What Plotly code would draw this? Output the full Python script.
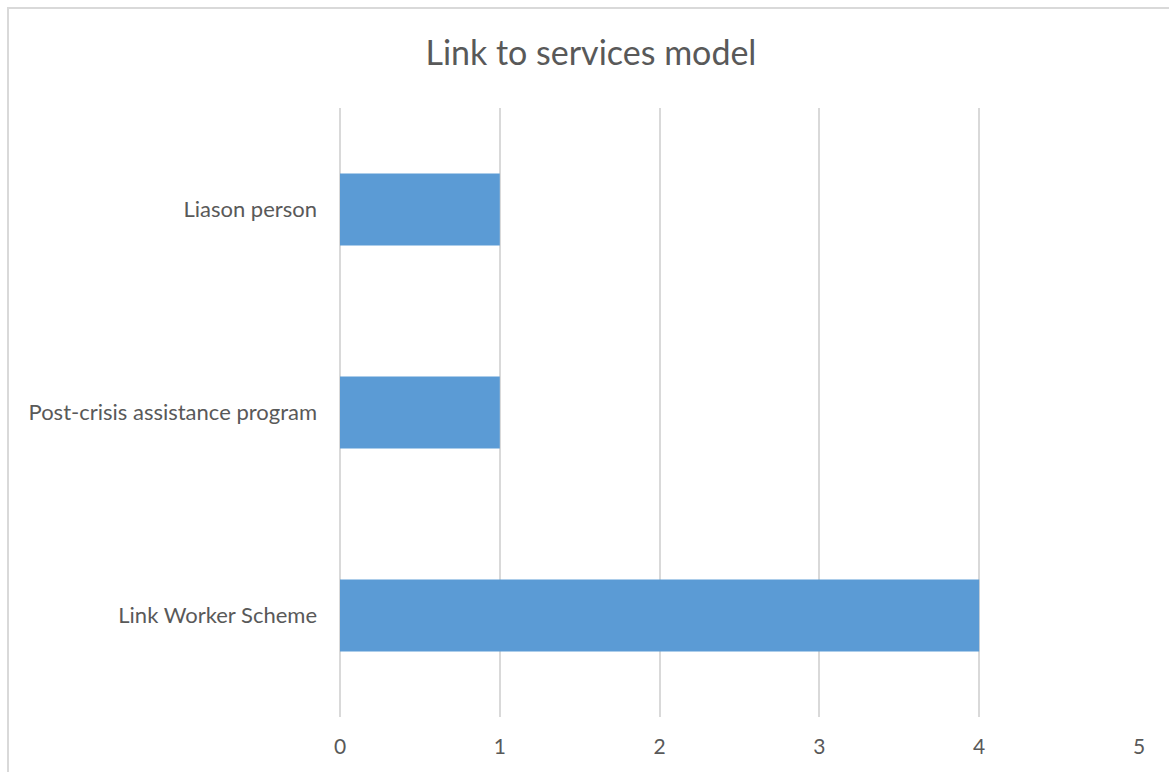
import plotly.graph_objects as go

# Link-to-services models and how many respondents named each
categories = ["Link Worker Scheme", "Post-crisis assistance program", "Liason person"]
counts = [4, 1, 1]
x_ticks = [0, 1, 2, 3, 4, 5]

W, H = 1169, 772
L, R, T, B = 340, 30, 108, 55
pw, ph = W - L - R, H - T - B
FONT = "Lato, Open Sans, sans-serif"

def px_to_paper_x(px):
    return (px - L) / pw

def px_to_paper_y(py):
    return (H - B - py) / ph

fig = go.Figure(
    go.Bar(
        x=counts,
        y=categories,
        orientation="h",
        width=0.355,
        marker=dict(color="#5b9bd5", line=dict(width=0)),
        hoverinfo="x+y",
    )
)

fig.update_layout(
    width=W,
    height=H,
    margin=dict(l=L, r=R, t=T, b=B),
    paper_bgcolor="white",
    plot_bgcolor="white",
    font=dict(family=FONT, color="#595959"),
    showlegend=False,
    title=dict(
        text="Link to services model",
        x=0.5055,
        xanchor="center",
        y=1 - 53 / H,
        yanchor="middle",
        yref="container",
        font=dict(size=34, color="#595959", family=FONT),
    ),
    xaxis=dict(
        range=[0, 5],
        tickvals=x_ticks,
        ticktext=[str(v) for v in x_ticks],
        showgrid=True,
        gridcolor="#d9d9d9",
        gridwidth=1.5,
        zeroline=True,
        zerolinecolor="#d9d9d9",
        zerolinewidth=1.5,
        showline=False,
        ticks="",
        tickfont=dict(size=21, color="#595959"),
        ticklabelstandoff=15,
        fixedrange=True,
    ),
    yaxis=dict(
        showgrid=False,
        zeroline=False,
        showline=False,
        ticks="",
        tickfont=dict(size=22, color="#595959"),
        ticklabelstandoff=22,
        categoryorder="array",
        categoryarray=categories,
        fixedrange=True,
    ),
    shapes=[
        dict(
            type="rect",
            xref="paper",
            yref="paper",
            x0=px_to_paper_x(8),
            x1=px_to_paper_x(W + 10),
            y0=px_to_paper_y(H + 10),
            y1=px_to_paper_y(8),
            line=dict(color="#d9d9d9", width=2),
            fillcolor="rgba(0,0,0,0)",
            layer="below",
        )
    ],
)

fig.write_html("out.html")
